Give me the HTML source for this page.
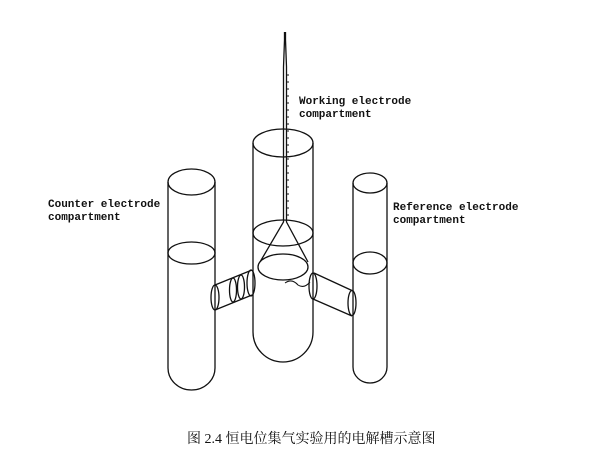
<!DOCTYPE html>
<html><head><meta charset="utf-8"><style>
body{margin:0;background:#fff;width:603px;height:454px;overflow:hidden}
svg{display:block}
.t{font-family:"Liberation Mono",monospace;font-size:11px;font-weight:bold;fill:#111}
</style></head><body>
<svg width="603" height="454" viewBox="0 0 603 454" xmlns="http://www.w3.org/2000/svg">
<g fill="none" stroke="#111" stroke-width="1.3">
<path d="M168,182 L168,368 A23.5,22 0 0 0 215,368 L215,182"/>
<ellipse cx="191.5" cy="182" rx="23.5" ry="13"/>
<ellipse cx="191.5" cy="253" rx="23.5" ry="11"/>
<path d="M253,143 L253,332 A30,30 0 0 0 313,332 L313,143"/>
<ellipse cx="283" cy="143" rx="30" ry="14"/>
<ellipse cx="283" cy="233" rx="30" ry="13"/>
<ellipse cx="283" cy="267" rx="25" ry="13"/>
<path d="M353,183 L353,367 A17,16 0 0 0 387,367 L387,183"/>
<ellipse cx="370" cy="183" rx="17" ry="10"/>
<ellipse cx="370" cy="263" rx="17" ry="11"/>
<path d="M284.5,32 L284.5,40 L283.5,67 L283.5,222 L260,262"/>
<path d="M285.5,32 L285.5,40 L286.5,67 L286.5,222 L308,262"/>
<path d="M215,285 L252,270 M215,310 L252,295"/>
<ellipse cx="215" cy="297.5" rx="4" ry="12.5"/>
<ellipse cx="233" cy="290" rx="3.5" ry="12"/>
<ellipse cx="241" cy="287" rx="3.5" ry="12"/>
<ellipse cx="251" cy="283" rx="4" ry="13"/>
<path d="M314,273 L353,291 M313,299 L352,316"/>
<ellipse cx="313" cy="286" rx="4" ry="13"/>
<ellipse cx="352" cy="303" rx="4" ry="12.5"/>
<path d="M285,283 Q292,278 298,285 Q304,289 310,282" stroke-width="1"/>
</g>
<g stroke="#111" stroke-width="1">
<path d="M286,75h3M286,82h3M286,89h3M286,96h3M286,103h3M286,110h3M286,117h3M286,124h3M286,131h3M286,138h3M286,145h3M286,152h3M286,159h3M286,166h3M286,173h3M286,180h3M286,187h3M286,194h3M286,201h3M286,208h3M286,215h3"/>
</g>
<text class="t" x="299" y="104">Working electrode</text>
<text class="t" x="299" y="117">compartment</text>
<text class="t" x="48" y="207">Counter electrode</text>
<text class="t" x="48" y="220">compartment</text>
<text class="t" x="393" y="210">Reference electrode</text>
<text class="t" x="393" y="223">compartment</text>
<text x="187" y="443" font-family="'Liberation Serif','Noto Serif CJK SC',serif" font-size="14" fill="#111">图 2.4 恒电位集气实验用的电解槽示意图</text>
</svg>
</body></html>
